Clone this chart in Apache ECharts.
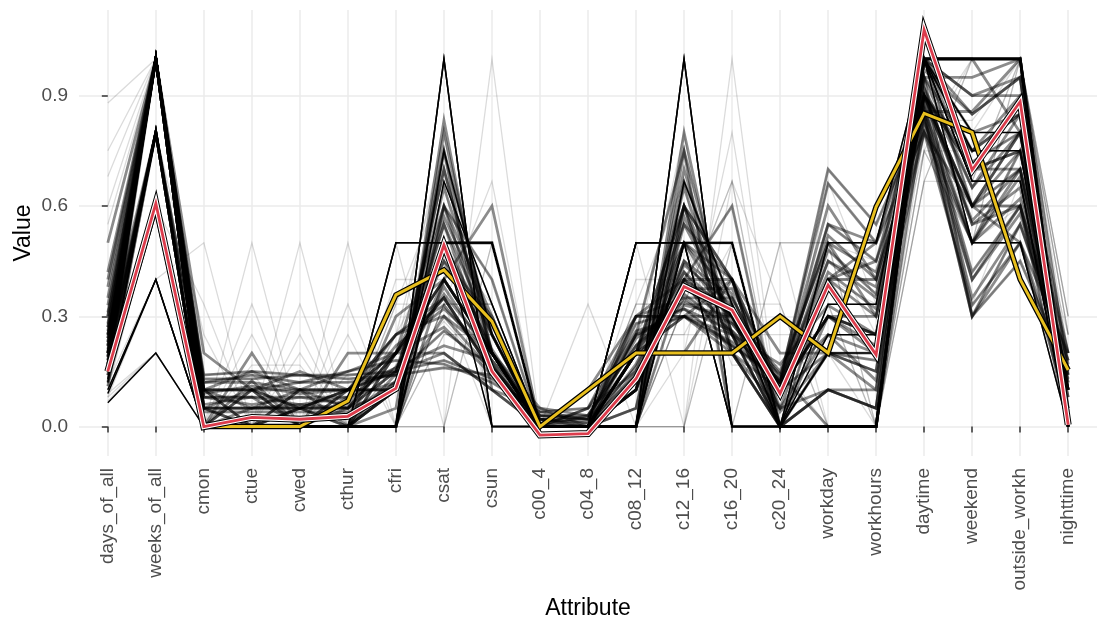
<!DOCTYPE html>
<html>
<head>
<meta charset="utf-8">
<script src="https://cdn.jsdelivr.net/npm/echarts@6/dist/echarts.min.js"></script>
<style>
  html, body { margin: 0; padding: 0; background: #fff; }
  #chart { width: 1097px; height: 625px; }
</style>
</head>
<body>
<div id="chart"></div>
<script>
const attributes = ['days_of_all', 'weeks_of_all', 'cmon', 'ctue', 'cwed', 'cthur', 'cfri', 'csat', 'csun',
  'c00_4', 'c04_8', 'c08_12', 'c12_16', 'c16_20', 'c20_24', 'workday', 'workhours', 'daytime',
  'weekend', 'outside_workh', 'nighttime']
const yTicks = [0, 0.3, 0.6, 0.9]

// profiles shared by many users (drawn solid)
const commonProfiles = [
  [0.065, 0.2, 0, 0, 0, 0, 0, 1.0, 0, 0, 0, 0, 1.0, 0, 0, 0, 0, 1.0, 1.0, 1.0, 0],
  [0.09, 0.4, 0, 0, 0, 0, 0.5, 0.5, 0, 0, 0, 0.5, 0.5, 0, 0, 0.5, 0.5, 1.0, 0.5, 0.5, 0],
  [0.1, 0.4, 0, 0, 0, 0, 0, 0.5, 0.5, 0, 0, 0, 0.5, 0.5, 0, 0, 0, 1.0, 1.0, 1.0, 0],
  [0.12, 0.8, 0, 0, 0, 0, 0, 0.75, 0.25, 0, 0, 0, 0.667, 0.333, 0, 0, 0, 1.0, 1.0, 1.0, 0],
  [0.13, 0.8, 0, 0, 0, 0, 0, 0.667, 0.333, 0, 0, 0.5, 0.5, 0, 0, 0, 0, 1.0, 0.667, 0.667, 0],
  [0.15, 1.0, 0, 0, 0, 0, 0.5, 0.5, 0.5, 0, 0, 0.5, 0.5, 0.5, 0, 0.333, 0.333, 1.0, 0.667, 0.667, 0],
  [0.17, 1.0, 0, 0, 0, 0, 0, 1.0, 0, 0, 0, 0, 1.0, 0, 0, 0.25, 0.25, 1.0, 0.75, 0.75, 0],
  [0.155, 0.6, 0, 0, 0, 0, 0, 0.5, 0.5, 0, 0, 0, 0.5, 0.5, 0, 0.2, 0.2, 1.0, 0.8, 0.8, 0]
]

// regular users with spread-out activity
const steadyUsers = [
  [0.25, 1.0, 0.1, 0.05, 0.1, 0.05, 0.2, 0.35, 0.15, 0.02, 0, 0.2, 0.4, 0.3, 0.1, 0.45, 0.35, 0.9, 0.55, 0.65, 0.1],
  [0.3, 1.0, 0.2, 0.1, 0.15, 0.1, 0.15, 0.2, 0.1, 0.05, 0.03, 0.25, 0.3, 0.25, 0.12, 0.6, 0.4, 0.85, 0.35, 0.55, 0.18],
  [0.27, 1.0, 0.05, 0.1, 0.05, 0.1, 0.25, 0.3, 0.15, 0, 0.05, 0.15, 0.35, 0.35, 0.1, 0.3, 0.25, 0.9, 0.7, 0.75, 0.1],
  [0.35, 1.0, 0.12, 0.14, 0.12, 0.15, 0.18, 0.17, 0.12, 0.04, 0.02, 0.28, 0.32, 0.22, 0.12, 0.55, 0.45, 0.84, 0.3, 0.55, 0.16],
  [0.22, 0.8, 0.1, 0, 0.1, 0.1, 0.1, 0.4, 0.2, 0, 0, 0.1, 0.4, 0.4, 0.1, 0.4, 0.2, 0.9, 0.6, 0.8, 0.1],
  [0.26, 1.0, 0.08, 0.08, 0.08, 0.08, 0.12, 0.38, 0.18, 0.02, 0.02, 0.16, 0.42, 0.3, 0.08, 0.4, 0.3, 0.9, 0.56, 0.7, 0.1],
  [0.3, 1.0, 0.1, 0.1, 0.1, 0.1, 0.1, 0.3, 0.2, 0.05, 0, 0.2, 0.3, 0.3, 0.15, 0.5, 0.3, 0.8, 0.5, 0.7, 0.2],
  [0.16, 0.8, 0, 0.125, 0, 0, 0.125, 0.5, 0.25, 0, 0, 0.125, 0.375, 0.375, 0.125, 0.25, 0.125, 0.9, 0.75, 0.85, 0.1],
  [0.2, 0.8, 0, 0, 0.1, 0, 0.3, 0.4, 0.2, 0, 0.1, 0.3, 0.3, 0.2, 0.1, 0.4, 0.5, 0.9, 0.6, 0.5, 0.1],
  [0.4, 1.0, 0.14, 0.15, 0.14, 0.13, 0.14, 0.16, 0.14, 0.03, 0.02, 0.3, 0.3, 0.23, 0.12, 0.7, 0.55, 0.85, 0.3, 0.45, 0.15],
  [0.24, 1.0, 0.05, 0.05, 0.05, 0.05, 0.15, 0.45, 0.2, 0, 0, 0.1, 0.45, 0.35, 0.1, 0.3, 0.2, 0.92, 0.65, 0.8, 0.08],
  [0.23, 1.0, 0.1, 0.15, 0.1, 0.15, 0.2, 0.2, 0.1, 0, 0, 0.3, 0.35, 0.25, 0.1, 0.55, 0.5, 0.95, 0.3, 0.5, 0.05],
  [0.17, 0.8, 0, 0, 0, 0.2, 0.2, 0.4, 0.2, 0, 0, 0.2, 0.2, 0.4, 0.2, 0.2, 0.2, 0.8, 0.6, 0.8, 0.2],
  [0.21, 1.0, 0, 0, 0, 0, 0.1, 0.7, 0.2, 0, 0, 0.1, 0.6, 0.3, 0, 0.1, 0.1, 1.0, 0.9, 0.9, 0],
  [0.33, 1.0, 0.06, 0.08, 0.06, 0.08, 0.16, 0.36, 0.2, 0.02, 0.01, 0.14, 0.4, 0.32, 0.11, 0.3, 0.22, 0.88, 0.6, 0.75, 0.12],
  [0.25, 0.8, 0.1, 0, 0, 0.1, 0.2, 0.4, 0.2, 0, 0, 0.2, 0.3, 0.4, 0.1, 0.3, 0.25, 0.9, 0.6, 0.7, 0.1],
  [0.27, 1.0, 0.04, 0.04, 0.04, 0.04, 0.12, 0.55, 0.17, 0, 0, 0.1, 0.5, 0.36, 0.04, 0.2, 0.15, 0.95, 0.75, 0.85, 0.04],
  [0.38, 1.0, 0.1, 0.1, 0.12, 0.12, 0.14, 0.26, 0.16, 0.03, 0.03, 0.22, 0.36, 0.26, 0.1, 0.48, 0.36, 0.87, 0.42, 0.6, 0.13],
  [0.19, 1.0, 0, 0.1, 0, 0.1, 0.1, 0.5, 0.2, 0, 0, 0.2, 0.5, 0.3, 0, 0.3, 0.3, 1.0, 0.7, 0.7, 0],
  [0.5, 1.0, 0.13, 0.13, 0.14, 0.14, 0.15, 0.18, 0.13, 0.04, 0.05, 0.26, 0.3, 0.22, 0.13, 0.66, 0.5, 0.8, 0.33, 0.5, 0.2],
  [0.24, 1.0, 0.08, 0.08, 0, 0.08, 0.25, 0.33, 0.17, 0, 0, 0.17, 0.42, 0.25, 0.17, 0.33, 0.25, 0.83, 0.5, 0.75, 0.17],
  [0.42, 1.0, 0.05, 0.05, 0.06, 0.05, 0.1, 0.48, 0.21, 0.01, 0, 0.12, 0.44, 0.33, 0.1, 0.2, 0.18, 0.9, 0.72, 0.8, 0.1],
  [0.28, 1.0, 0.09, 0.11, 0.09, 0.1, 0.2, 0.27, 0.14, 0.02, 0, 0.24, 0.34, 0.28, 0.12, 0.52, 0.4, 0.86, 0.4, 0.58, 0.14],
  [0.18, 0.8, 0, 0, 0, 0, 0.143, 0.571, 0.286, 0, 0, 0, 0.571, 0.286, 0.143, 0, 0, 0.857, 0.857, 1.0, 0.143],
  [0.19, 1.0, 0, 0, 0, 0, 0, 0.8, 0.2, 0, 0, 0.2, 0.6, 0.2, 0, 0, 0, 1.0, 1.0, 0.8, 0],
  [0.2, 1.0, 0, 0, 0, 0, 0, 0.6, 0.4, 0, 0, 0, 0.8, 0.2, 0, 0, 0, 1.0, 1.0, 1.0, 0],
  [0.16, 1.0, 0, 0, 0, 0, 0, 0.833, 0.167, 0, 0, 0, 0.667, 0.333, 0, 0, 0, 1.0, 1.0, 1.0, 0],
  [0.22, 1.0, 0, 0, 0, 0, 0, 0.75, 0.25, 0, 0, 0, 0.5, 0.5, 0, 0, 0, 1.0, 1.0, 1.0, 0],
  [0.14, 1.0, 0, 0, 0, 0, 0, 0.5, 0.5, 0, 0, 0, 0.75, 0.25, 0, 0, 0, 1.0, 1.0, 1.0, 0],
  [0.17, 0.8, 0, 0, 0, 0, 0, 0.5, 0.5, 0, 0, 0.25, 0.75, 0, 0, 0, 0, 1.0, 1.0, 1.0, 0],
  [0.18, 1.0, 0, 0, 0, 0, 0, 0.4, 0.6, 0, 0, 0, 0.4, 0.6, 0, 0, 0, 1.0, 1.0, 1.0, 0],
  [0.2, 1.0, 0, 0.2, 0, 0, 0.2, 0.4, 0.2, 0, 0, 0, 0.6, 0.4, 0, 0.4, 0.4, 1.0, 0.6, 0.6, 0],
  [0.2, 1.0, 0.05, 0, 0.05, 0, 0.1, 0.6, 0.3, 0, 0, 0.1, 0.5, 0.4, 0.05, 0.1, 0.05, 1.0, 0.85, 0.95, 0.03],
  [0.15, 0.8, 0, 0, 0.05, 0.05, 0.2, 0.45, 0.3, 0, 0, 0.2, 0.55, 0.3, 0.05, 0.25, 0.2, 0.95, 0.65, 0.85, 0.05],
  [0.12, 0.8, 0, 0.1, 0, 0, 0.1, 0.65, 0.25, 0, 0, 0.05, 0.7, 0.25, 0, 0.1, 0.05, 1.0, 0.9, 0.95, 0],
  [0.22, 1.0, 0.08, 0.06, 0.08, 0.06, 0.22, 0.32, 0.2, 0.02, 0.01, 0.2, 0.38, 0.28, 0.12, 0.42, 0.32, 0.88, 0.5, 0.68, 0.12],
  [0.19, 0.8, 0.05, 0, 0.05, 0.1, 0.15, 0.5, 0.2, 0, 0, 0.15, 0.45, 0.3, 0.1, 0.3, 0.25, 0.9, 0.7, 0.75, 0.1],
  [0.25, 1.0, 0.1, 0.1, 0.05, 0.05, 0.2, 0.35, 0.15, 0, 0.03, 0.22, 0.33, 0.3, 0.12, 0.45, 0.38, 0.86, 0.5, 0.62, 0.14],
  [0.14, 0.6, 0, 0, 0, 0, 0.2, 0.6, 0.2, 0, 0, 0.2, 0.6, 0.2, 0, 0.2, 0.15, 1.0, 0.8, 0.85, 0],
  [0.23, 1.0, 0, 0.05, 0.05, 0, 0.05, 0.75, 0.1, 0, 0, 0.05, 0.55, 0.4, 0, 0.1, 0.05, 0.97, 0.85, 0.95, 0.02],
  [0.31, 1.0, 0.12, 0.12, 0.1, 0.1, 0.16, 0.22, 0.18, 0.03, 0.02, 0.25, 0.32, 0.26, 0.14, 0.5, 0.42, 0.82, 0.4, 0.6, 0.18],
  [0.17, 1.0, 0, 0, 0, 0.05, 0.15, 0.55, 0.25, 0, 0, 0.1, 0.65, 0.25, 0, 0.2, 0.1, 1.0, 0.75, 0.9, 0],
  [0.11, 0.8, 0, 0, 0, 0, 0.1, 0.7, 0.2, 0, 0, 0, 0.6, 0.4, 0, 0, 0, 0.95, 0.95, 1.0, 0.05],
  [0.2, 0.8, 0.05, 0.05, 0.05, 0.1, 0.25, 0.35, 0.15, 0, 0.05, 0.3, 0.4, 0.2, 0.05, 0.4, 0.45, 0.92, 0.55, 0.6, 0.08]
]

// users with few visits, values jump between fractions
const sparseUsers = [
  [0.3, 1.0, 0.143, 0.143, 0, 0.143, 0.143, 0.286, 0.143, 0, 0, 0.25, 0.5, 0.25, 0, 0.5, 0.45, 0.95, 0.5, 0.6, 0],
  [0.2, 0.8, 0, 0.167, 0.167, 0, 0.167, 0.333, 0.167, 0, 0, 0.167, 0.5, 0.333, 0, 0.4, 0.333, 1.0, 0.6, 0.7, 0],
  [0.12, 0.6, 0, 0, 0.333, 0, 0, 0.333, 0.333, 0, 0, 0, 0.667, 0.333, 0, 0.333, 0.333, 1.0, 0.667, 0.667, 0],
  [0.1, 0.4, 0.5, 0, 0, 0, 0, 0.5, 0, 0, 0, 0.5, 0, 0.5, 0, 0.5, 0.5, 1.0, 0.5, 0.5, 0],
  [0.18, 0.8, 0, 0.25, 0, 0.25, 0, 0.25, 0.25, 0, 0, 0.25, 0.25, 0.5, 0, 0.5, 0.25, 1.0, 0.5, 0.75, 0],
  [0.08, 0.2, 0, 0, 0, 0.5, 0, 0.5, 0, 0, 0, 0, 0.5, 0, 0.5, 0.5, 0, 0.75, 0.5, 1.0, 0.25],
  [0.14, 0.6, 0, 0, 0, 0, 0.333, 0.667, 0, 0, 0, 0.333, 0.667, 0, 0, 0.333, 0.333, 1.0, 0.667, 0.667, 0],
  [0.15, 1.0, 0, 0, 0, 0, 0.25, 0.75, 0, 0, 0, 0.25, 0.75, 0, 0, 0.25, 0.25, 1.0, 0.75, 0.75, 0],
  [0.1, 0.4, 0, 0, 0, 0, 0, 0.333, 0.667, 0, 0, 0, 0.333, 0.667, 0, 0, 0, 1.0, 1.0, 1.0, 0],
  [0.12, 0.6, 0.333, 0, 0, 0.333, 0, 0.333, 0, 0, 0, 0.333, 0.333, 0.333, 0, 0.667, 0.333, 1.0, 0.333, 0.667, 0],
  [0.07, 0.2, 0, 0, 0, 0, 0, 0, 1.0, 0, 0, 0, 0, 1.0, 0, 0, 0, 1.0, 1.0, 1.0, 0],
  [0.09, 0.4, 0, 0, 0, 0, 0.5, 0, 0.5, 0, 0, 0, 0.5, 0, 0.5, 0.5, 0, 0.75, 0.5, 1.0, 0.25],
  [0.13, 0.6, 0, 0, 0, 0, 0, 0.667, 0.333, 0, 0, 0, 0.333, 0.333, 0.333, 0, 0, 0.667, 1.0, 1.0, 0.3],
  [0.11, 0.6, 0, 0.333, 0, 0, 0, 0.333, 0.333, 0, 0.333, 0, 0.333, 0.333, 0, 0.333, 0, 0.667, 0.667, 1.0, 0.3],
  [0.08, 0.4, 0, 0, 0, 0, 0, 0.5, 0.5, 0, 0, 0, 0, 0.5, 0.5, 0, 0, 0.75, 1.0, 1.0, 0.25],
  [0.14, 0.8, 0, 0, 0, 0, 0.167, 0.5, 0.333, 0, 0, 0.167, 0.5, 0.167, 0.167, 0, 0, 0.833, 0.833, 1.0, 0.167],
  [0.12, 0.4, 0, 0.5, 0, 0, 0, 0.5, 0, 0, 0, 0.5, 0.5, 0, 0, 0.5, 0.5, 1.0, 0.5, 0.5, 0],
  [0.1, 0.6, 0, 0, 0, 0, 0.333, 0.333, 0.333, 0, 0, 0, 0.333, 0.667, 0, 0.333, 0, 1.0, 0.667, 1.0, 0],
  [0.16, 0.8, 0.25, 0, 0.25, 0, 0, 0.25, 0.25, 0, 0, 0.25, 0.5, 0.25, 0, 0.5, 0.5, 1.0, 0.5, 0.5, 0],
  [0.2, 1.0, 0, 0, 0.2, 0, 0, 0.6, 0.2, 0, 0, 0, 0.4, 0.6, 0, 0.2, 0, 1.0, 0.8, 1.0, 0],
  [0.09, 0.2, 0, 0, 0, 0, 0, 0.5, 0.5, 0, 0, 0, 1.0, 0, 0, 0, 0, 1.0, 1.0, 1.0, 0],
  [0.13, 0.8, 0, 0, 0, 0, 0.25, 0.5, 0.25, 0, 0, 0.25, 0.25, 0.25, 0.25, 0.25, 0.25, 0.75, 0.75, 0.75, 0.25],
  [0.11, 0.6, 0, 0, 0, 0, 0, 1.0, 0, 0, 0, 0.333, 0.333, 0.333, 0, 0, 0, 1.0, 1.0, 1.0, 0],
  [0.15, 0.8, 0, 0, 0, 0, 0.4, 0.4, 0.2, 0, 0, 0.4, 0.4, 0.2, 0, 0.4, 0.4, 1.0, 0.6, 0.6, 0],
  [0.1, 0.4, 0, 0, 0.5, 0, 0, 0, 0.5, 0, 0, 0, 0.5, 0.5, 0, 0.5, 0.5, 1.0, 0.5, 0.5, 0],
  [0.12, 0.6, 0, 0, 0, 0, 0, 0.667, 0.333, 0, 0, 0, 0, 0.667, 0.333, 0, 0, 0.667, 1.0, 1.0, 0.3],
  [0.2, 0.8, 0, 0, 0, 0, 0.2, 0.8, 0, 0, 0, 0.2, 0.8, 0, 0, 0.2, 0.2, 1.0, 0.8, 0.8, 0],
  [0.13, 0.8, 0, 0, 0, 0, 0, 0.6, 0.4, 0, 0, 0, 0.2, 0.8, 0, 0, 0, 0.8, 1.0, 1.0, 0.2],
  [0.6, 1.0, 0.12, 0.14, 0.12, 0.15, 0.18, 0.17, 0.12, 0.04, 0.02, 0.28, 0.32, 0.22, 0.12, 0.55, 0.45, 0.84, 0.3, 0.55, 0.16],
  [0.75, 1.0, 0.14, 0.15, 0.14, 0.13, 0.14, 0.16, 0.14, 0.03, 0.02, 0.3, 0.3, 0.23, 0.12, 0.7, 0.55, 0.85, 0.3, 0.45, 0.15],
  [0.88, 1.0, 0.13, 0.13, 0.14, 0.14, 0.15, 0.18, 0.13, 0.04, 0.05, 0.26, 0.3, 0.22, 0.13, 0.66, 0.5, 0.8, 0.33, 0.5, 0.2],
  [0.55, 1.0, 0.05, 0.05, 0.06, 0.05, 0.1, 0.48, 0.21, 0.01, 0, 0.12, 0.44, 0.33, 0.1, 0.2, 0.18, 0.9, 0.72, 0.8, 0.1],
  [0.68, 1.0, 0.1, 0.1, 0.12, 0.12, 0.14, 0.26, 0.16, 0.03, 0.03, 0.22, 0.36, 0.26, 0.1, 0.48, 0.36, 0.87, 0.42, 0.6, 0.13]
]

// highlighted cluster centres
const yellowCentre = [0.15, 0.6, 0, 0, 0, 0.07, 0.358, 0.426, 0.286, 0, 0.1, 0.2, 0.2, 0.2, 0.3, 0.2, 0.598, 0.852, 0.8, 0.4, 0.154]
const redCentre = [0.15, 0.607, 0, 0.025, 0.02, 0.028, 0.104, 0.494, 0.15, -0.023, -0.019, 0.13, 0.381, 0.317, 0.09, 0.385, 0.195, 1.079, 0.698, 0.884, 0.005]

const fontFamily = '"Liberation Sans", Arial, Helvetica, sans-serif'
const xTicks = attributes.map((a, i) => i)

const toPoints = (row) => row.map((v, i) => [i, v])

const lineSeries = (row, color, width, opacity) => {
  return {
    type: 'line',
    data: toPoints(row),
    symbol: 'none',
    silent: true,
    animation: false,
    lineStyle: { color: color, width: width, opacity: opacity, join: 'miter' }
  }
}

const series = []
sparseUsers.forEach((row) => series.push(lineSeries(row, '#000', 1.3, 0.14)))
steadyUsers.forEach((row) => series.push(lineSeries(row, '#000', 2.8, 0.45)))
commonProfiles.forEach((row) => series.push(lineSeries(row, '#000', 1.5, 1)))
series.push(lineSeries(yellowCentre, '#000', 5.5, 1))
series.push(lineSeries(yellowCentre, '#E8BF1E', 3, 1))
series.push(lineSeries(redCentre, '#000', 7, 1))
series.push(lineSeries(redCentre, '#fff', 5, 1))
series.push(lineSeries(redCentre, '#DC3C4C', 2.8, 1))

const chart = echarts.init(document.getElementById('chart'))
const option = {
  animation: false,
  backgroundColor: '#fff',
  grid: { left: 79, right: 0, top: 10, bottom: 169, containLabel: false, outerBoundsMode: 'none' },
  xAxis: {
    type: 'value',
    min: -0.6,
    max: 20.6,
    name: 'Attribute',
    nameLocation: 'middle',
    nameGap: 141,
    nameMoveOverlap: false,
    nameTextStyle: { fontSize: 23, color: '#000', fontFamily: fontFamily },
    axisLine: { show: false },
    axisTick: { show: true, length: 6, customValues: xTicks, lineStyle: { color: '#333', width: 1.5 } },
    axisLabel: {
      customValues: xTicks,
      formatter: (v) => attributes[v],
      rotate: 90,
      margin: 12,
      fontSize: 19,
      color: '#4D4D4D',
      fontFamily: fontFamily
    },
    splitLine: { show: true, lineStyle: { color: '#EBEBEB', width: 1.5 } }
  },
  yAxis: {
    type: 'value',
    min: -0.08,
    max: 1.133,
    name: 'Value',
    nameLocation: 'middle',
    nameGap: 44,
    nameMoveOverlap: false,
    nameTextStyle: { fontSize: 23, color: '#000', fontFamily: fontFamily },
    axisLine: { show: false },
    axisTick: { show: true, length: 6, customValues: yTicks, lineStyle: { color: '#333', width: 1.5 } },
    axisLabel: {
      customValues: yTicks,
      formatter: (v) => v.toFixed(1),
      margin: 11,
      fontSize: 19,
      color: '#4D4D4D',
      fontFamily: fontFamily
    },
    splitLine: { show: true, lineStyle: { color: '#EBEBEB', width: 1.5 } }
  },
  series: series
}
chart.setOption(option)
</script>
</body>
</html>
